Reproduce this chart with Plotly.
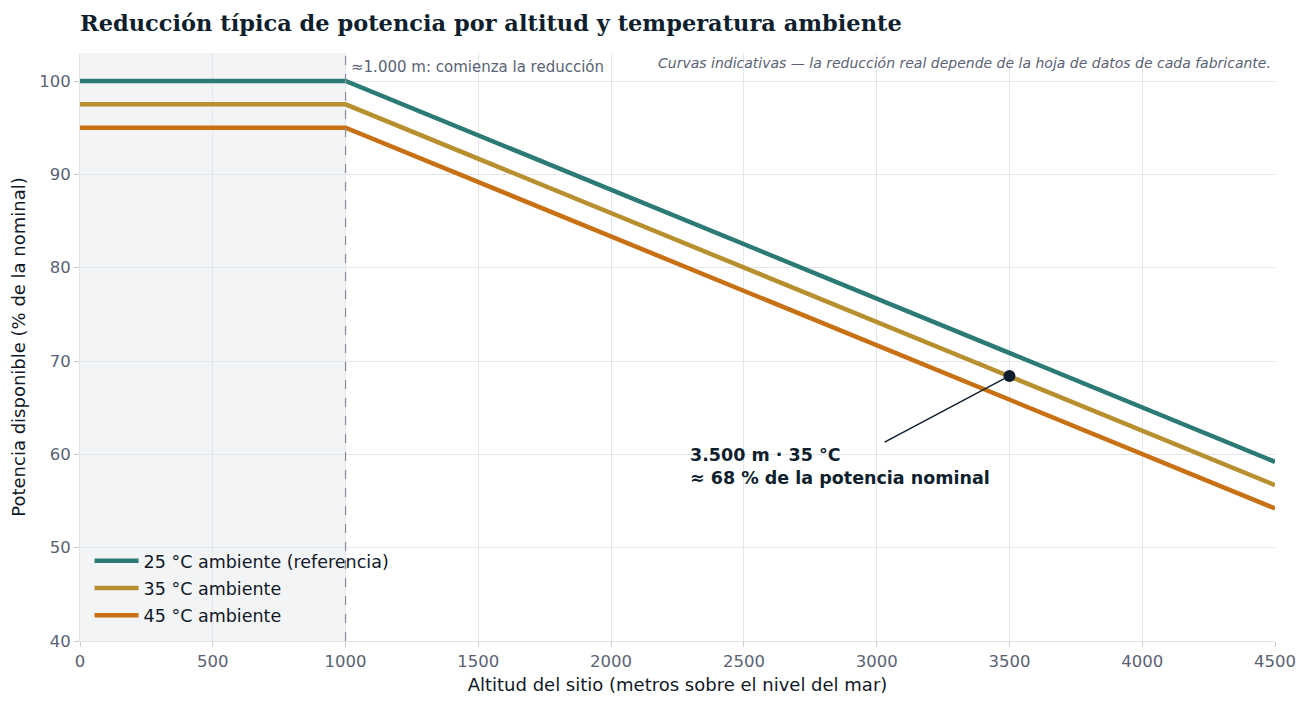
import plotly.graph_objects as go

# Altitude breakpoints (m) and available power (% of nominal)
altitud = [0, 1000, 4500]
pot_25 = [100.0, 100.0, 59.2]
pot_35 = [97.5, 97.5, 56.7]
pot_45 = [95.0, 95.0, 54.2]

series = [
    ("25 °C ambiente (referencia)", pot_25, "#2b7a74"),
    ("35 °C ambiente", pot_35, "#b88f2e"),
    ("45 °C ambiente", pot_45, "#c87014"),
]

punto_x = [3500]
punto_y = [68.4]

fig = go.Figure()

for name, vals, color in series:
    fig.add_trace(go.Scatter(
        x=altitud, y=vals, mode="lines", name=name, legendgroup=name,
        line=dict(color=color, width=4.5),
    ))

fig.add_trace(go.Scatter(
    x=punto_x, y=punto_y, mode="markers", showlegend=False,
    marker=dict(color="#0f1f2e", size=12),
))

# shaded zone below 1000 m
fig.add_vrect(x0=0, x1=1000, fillcolor="#f3f4f6", line_width=0, layer="below")
fig.add_vline(x=1000, line=dict(color="#8a909c", width=1.3, dash="dash"))

# annotation leader line
fig.add_shape(type="line", x0=3030, y0=61.3, x1=3500, y1=68.4,
              line=dict(color="#0f1f2e", width=1.5))

fig.add_annotation(
    x=2290, y=58.7, xanchor="left", yanchor="middle", align="left",
    text="<b>3.500 m · 35 °C<br>≈ 68 % de la potencia nominal</b>",
    showarrow=False, font=dict(size=17.5, color="#0f1f2e"),
)
fig.add_annotation(
    x=1000, y=103, xref="x", yref="y", xanchor="left", yanchor="top",
    xshift=3, yshift=-3,
    text="≈1.000 m: comienza la reducción",
    showarrow=False, font=dict(size=15, color="#5a6274"),
)
fig.add_annotation(
    x=1.0, y=1.0, xref="paper", yref="paper", xanchor="right", yanchor="top",
    xshift=-2,
    text="<i>Curvas indicativas — la reducción real depende de la hoja de datos de cada fabricante.</i>",
    showarrow=False, font=dict(size=14, color="#5a6274"),
)

fig.update_layout(
    width=1308, height=707,
    margin=dict(l=72, r=41, t=45, b=74),
    paper_bgcolor="white", plot_bgcolor="white",
    font=dict(family="DejaVu Sans", color="#111827"),
    title=dict(
        text="<b>Reducción típica de potencia por altitud y temperatura ambiente</b>",
        x=72 / 1308, xanchor="left", y=0.979, yanchor="middle",
        font=dict(family="DejaVu Serif", size=22.5, color="#0f1f2e"),
    ),
    legend=dict(
        x=0.008, y=0.012, xanchor="left", yanchor="bottom",
        bgcolor="rgba(0,0,0,0)", font=dict(size=17.5, color="#111827"),
        traceorder="grouped", tracegroupgap=1.5, itemwidth=44,
    ),
)

fig.update_xaxes(
    range=[0, 4500], dtick=500, showgrid=True, gridcolor="#e3e6eb",
    showline=True, linecolor="#dfe2e7", ticks="outside", ticklen=5,
    tickcolor="#c8ccd3", zeroline=False,
    tickfont=dict(size=16.5, color="#5a6274"),
    title=dict(text="Altitud del sitio (metros sobre el nivel del mar)",
               font=dict(size=18, color="#111827"), standoff=8),
)
fig.update_yaxes(
    range=[40, 103], dtick=10, showgrid=True, gridcolor="#e3e6eb",
    showline=True, linecolor="#dfe2e7", ticks="outside", ticklen=5,
    tickcolor="#c8ccd3", zeroline=False, automargin=False,
    tickfont=dict(size=16.5, color="#5a6274"),
    title=dict(text="Potencia disponible (% de la nominal)",
               font=dict(size=18, color="#111827")),
)

fig.write_html("out.html")
